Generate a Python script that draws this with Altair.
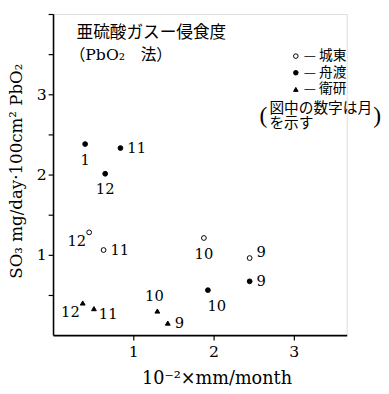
import altair as alt
import pandas as pd

# ---- data ----
site = ["舟渡"] * 5 + ["城東"] * 4 + ["衛研"] * 4
x_val = [0.40, 0.84, 0.65, 1.93, 2.45, 0.45, 0.63, 1.88, 2.45, 0.37, 0.51, 1.30, 1.43]
y_val = [2.38, 2.33, 2.01, 0.56, 0.67, 1.28, 1.06, 1.21, 0.96, 0.40, 0.33, 0.30, 0.15]
month = ["1", "11", "12", "10", "9", "12", "11", "10", "9", "12", "11", "10", "9"]
label_side = ["below", "right", "below", "belowright", "right",
              "leftdown", "right", "below", "rightup",
              "leftdown", "rightdown", "above", "right"]
site_order = ["城東", "舟渡", "衛研"]
x_ticks = [1, 2, 3]
y_ticks = [0.5, 1, 1.5, 2, 2.5, 3, 3.5, 4]
title_lines = ["亜硫酸ガスー侵食度", "（PbO₂\u3000法）"]
note_lines = ["図中の数字は月", "を示す"]
x_title = "10⁻²×mm/month"
y_title = "SO₃ mg/day·100cm² PbO₂"

df = pd.DataFrame({"site": site, "x": x_val, "y": y_val,
                   "month": month, "side": label_side})

SERIF = "DejaVu Serif"
CJK = "Noto Sans CJK JP"

x_enc = alt.X("x:Q", scale=alt.Scale(domain=[0, 3.66], nice=False),
              axis=alt.Axis(values=x_ticks, title=x_title, grid=False,
                            labelExpr="'' + datum.value",
                            domainColor="black", domainWidth=1.6,
                            tickColor="black", tickSize=5, tickWidth=1.2,
                            labelFont=SERIF, labelFontSize=16, labelColor="black",
                            labelPadding=4,
                            titleFont=SERIF, titleFontSize=18, titleFontWeight="normal",
                            titleColor="black", titleX=167, titleY=44,
                            titleAlign="center", titleBaseline="middle"))
y_enc = alt.Y("y:Q", scale=alt.Scale(domain=[0, 4], nice=False),
              axis=alt.Axis(values=y_ticks, title=y_title, grid=False,
                            labelExpr="(datum.value==1||datum.value==2||datum.value==3) ? ('' + datum.value) : ''",
                            labelOverlap=False,
                            domainColor="black", domainWidth=1.6,
                            tickColor="black", tickSize=5, tickWidth=1.2,
                            labelFont=SERIF, labelFontSize=16, labelColor="black",
                            labelPadding=2,
                            titleFont=SERIF, titleFontSize=17, titleFontWeight="normal",
                            titleColor="black", titleX=-37, titleY=160,
                            titleAlign="center", titleBaseline="middle"))

legend = alt.Legend(title=None, orient="none", legendX=241, legendY=36,
                    labelExpr="'— ' + datum.label", labelFont=CJK, labelFontSize=14,
                    labelColor="black", symbolSize=22, symbolStrokeColor="black",
                    symbolStrokeWidth=1, rowPadding=3, labelOffset=1)

base = alt.Chart(df)
points = base.mark_point(filled=True, strokeWidth=1, opacity=1, size=24).encode(
    x=x_enc, y=y_enc,
    shape=alt.Shape("site:N", scale=alt.Scale(domain=site_order,
                    range=["circle", "circle", "triangle-up"]), legend=legend),
    fill=alt.Fill("site:N", scale=alt.Scale(domain=site_order,
                  range=["white", "black", "black"]), legend=legend),
    stroke=alt.Stroke("site:N", scale=alt.Scale(domain=site_order,
                      range=["black", "black", "black"]), legend=legend),
)

offsets = {
    "below": ("center", 0, 16),
    "belowright": ("center", 9, 16),
    "right": ("left", 7, 0),
    "rightup": ("left", 7, -6),
    "rightdown": ("left", 5, 6),
    "leftdown": ("right", -3, 9),
    "above": ("center", -3, -15),
}
label_layers = []
for side, (al, dx, dy) in offsets.items():
    label_layers.append(
        base.transform_filter(alt.datum.side == side).mark_text(
            align=al, baseline="middle", dx=dx, dy=dy, font=SERIF, fontSize=15,
            color="black").encode(x="x:Q", y="y:Q", text="month:N"))

one = pd.DataFrame({"k": [0]})
def note(text, px, py, size, font, align="left"):
    return alt.Chart(one).mark_text(text=text, align=align, baseline="middle",
                                    font=font, fontSize=size, color="black").encode(
        x=alt.value(px), y=alt.value(py))

annots = [
    note(title_lines[0], 24, 20, 17, CJK),
    note(title_lines[1], 17, 42, 16, SERIF + ", " + CJK),
    note("(", 219, 104, 24, "Liberation Serif", align="right"),
    note(note_lines[0], 221, 96, 15, CJK),
    note(note_lines[1], 221, 111.5, 15, CJK),
    note(")", 327, 104, 24, "Liberation Serif"),
]

chart = alt.layer(points, *label_layers, *annots).properties(
    width=300, height=328,
    autosize=alt.AutoSizeParams(type="none"),
    padding={"left": 46, "top": 2, "right": 35, "bottom": 56},
).configure_view(stroke=None).configure(background="white")

chart.save("out.html", embed_options={"renderer": "svg", "actions": False})
